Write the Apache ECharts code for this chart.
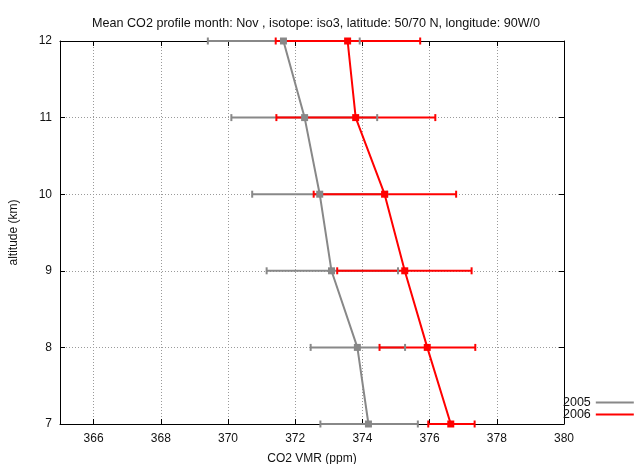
<!DOCTYPE html>
<html>
<head>
<meta charset="utf-8">
<script src="https://cdn.jsdelivr.net/npm/echarts@6/dist/echarts.min.js"></script>
<style>
  html, body { margin: 0; padding: 0; background: #fff; }
  #chart { width: 636px; height: 464px; }
</style>
</head>
<body>
<div id="chart"></div>
<script>
// Altitude levels (km)
const altitudes = [7, 8, 9, 10, 11, 12];

// Mean CO2 VMR (ppm) per altitude, with lower / upper error limits
const vmr2005 = [374.18, 373.85, 373.08, 372.73, 372.28, 371.65];
const lo2005  = [372.75, 372.46, 371.15, 370.72, 370.10, 369.40];
const hi2005  = [375.65, 375.27, 375.06, 374.74, 374.44, 373.92];

const vmr2006 = [376.63, 375.93, 375.26, 374.66, 373.80, 373.56];
const lo2006  = [375.96, 374.51, 373.25, 372.55, 371.44, 371.42];
const hi2006  = [377.34, 377.36, 377.25, 376.79, 376.17, 375.72];

const xTicks = [366, 368, 370, 372, 374, 376, 378, 380];

const GRAY = '#888888';
const RED = '#ff0000';
const FONT = 'Liberation Sans, Arial, Helvetica, sans-serif';

function pairs(xs) { return xs.map((v, i) => [v, altitudes[i]]); }

// Horizontal error bar with small vertical caps
function errorBars(lo, hi, color, zBar, zCap) {
  return {
    type: 'custom',
    z: 2,
    silent: true,
    data: altitudes.map((a, i) => [lo[i], hi[i], a]),
    renderItem: function (params, api) {
      const p0 = api.coord([api.value(0), api.value(2)]);
      const p1 = api.coord([api.value(1), api.value(2)]);
      const h = 3.5;
      const style = { stroke: color, lineWidth: 2, fill: null };
      return {
        type: 'group',
        children: [
          { type: 'line', z2: zBar, shape: { x1: p0[0], y1: p0[1], x2: p1[0], y2: p1[1] }, style: style },
          { type: 'line', z2: zCap, shape: { x1: p0[0], y1: p0[1] - h, x2: p0[0], y2: p0[1] + h }, style: style },
          { type: 'line', z2: zCap, shape: { x1: p1[0], y1: p1[1] - h, x2: p1[0], y2: p1[1] + h }, style: style }
        ]
      };
    }
  };
}

const gridLine = { show: true, lineStyle: { color: '#9a9a9a', type: [1, 2], width: 1 } };

const chart = echarts.init(document.getElementById('chart'), null, { renderer: 'canvas' });
chart.setOption({
  animation: false,
  backgroundColor: '#ffffff',
  title: {
    text: 'Mean CO2 profile month: Nov , isotope: iso3, latitude: 50/70 N, longitude: 90W/0',
    left: 87,
    top: 12,
    textStyle: { fontFamily: FONT, fontSize: 12.6, fontWeight: 'normal', color: '#111' }
  },
  legend: {
    orient: 'vertical',
    align: 'right',
    left: 563,
    top: 396,
    padding: 0,
    itemGap: -1,
    itemWidth: 38,
    itemHeight: 2,
    textStyle: { fontFamily: FONT, fontSize: 12.5, color: '#111', lineHeight: 12 },
    data: [
      { name: '2005', icon: 'rect', itemStyle: { color: GRAY } },
      { name: '2006', icon: 'rect', itemStyle: { color: RED } }
    ]
  },
  grid: { left: 60, width: 504, top: 41, height: 383, containLabel: false, outerBoundsMode: 'none' },
  xAxis: [
    {
      type: 'value', min: 365, max: 380, position: 'bottom',
      name: 'CO2 VMR (ppm)', nameLocation: 'middle', nameGap: 29,
      nameTextStyle: { fontFamily: FONT, fontSize: 12, color: '#111' },
      axisLine: { show: true, onZero: false, lineStyle: { color: '#000', width: 1 } },
      axisTick: { show: true, inside: true, length: 5, customValues: xTicks, lineStyle: { color: '#000' } },
      axisLabel: { customValues: xTicks, fontFamily: FONT, fontSize: 12, color: '#111', margin: 9 },
      splitLine: gridLine
    },
    {
      type: 'value', min: 365, max: 380, position: 'top',
      axisLine: { show: true, onZero: false, lineStyle: { color: '#000', width: 1 } },
      axisTick: { show: true, inside: true, length: 5, customValues: xTicks, lineStyle: { color: '#000' } },
      axisLabel: { show: false },
      splitLine: { show: false }
    }
  ],
  yAxis: [
    {
      type: 'value', min: 7, max: 12, interval: 1, position: 'left',
      name: 'altitude (km)', nameLocation: 'middle', nameGap: 40,
      nameTextStyle: { fontFamily: FONT, fontSize: 12, color: '#111' },
      axisLine: { show: true, onZero: false, lineStyle: { color: '#000', width: 1 } },
      axisTick: { show: true, inside: true, length: 5, lineStyle: { color: '#000' } },
      axisLabel: { fontFamily: FONT, fontSize: 12, color: '#111', margin: 8 },
      splitLine: gridLine
    },
    {
      type: 'value', min: 7, max: 12, interval: 1, position: 'right',
      axisLine: { show: true, onZero: false, lineStyle: { color: '#000', width: 1 } },
      axisTick: { show: true, inside: true, length: 5, lineStyle: { color: '#000' } },
      axisLabel: { show: false },
      splitLine: { show: false }
    }
  ],
  series: [
    Object.assign(errorBars(lo2005, hi2005, GRAY, 1, 10), { name: '2005e' }),
    Object.assign(errorBars(lo2006, hi2006, RED, 5, 6), { name: '2006e' }),
    {
      name: '2005', type: 'line', z: 3,
      data: pairs(vmr2005),
      symbol: 'rect', symbolSize: 7,
      itemStyle: { color: GRAY },
      lineStyle: { color: GRAY, width: 2 }
    },
    {
      name: '2006', type: 'line', z: 3,
      data: pairs(vmr2006),
      symbol: 'rect', symbolSize: 7,
      itemStyle: { color: RED },
      lineStyle: { color: RED, width: 2 }
    }
  ]
});
</script>
</body>
</html>
